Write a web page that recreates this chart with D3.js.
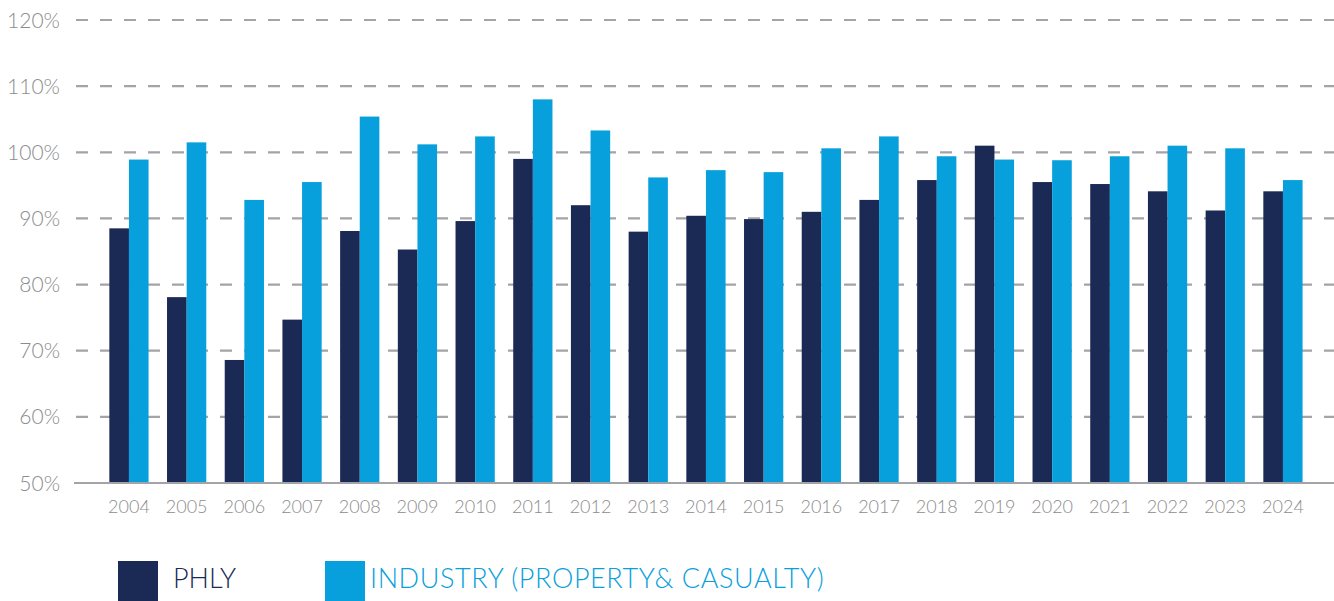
<!DOCTYPE html>
<html>
<head>
<meta charset="utf-8">
<script src="https://cdn.jsdelivr.net/npm/d3@7"></script>
<style>
  html, body { margin: 0; padding: 0; background: #fff; }
  svg { display: block; font-family: Lato, "Open Sans", sans-serif; }
</style>
</head>
<body>
<div id="chart"></div>
<script>
// ── Data ──
const years = ["2004","2005","2006","2007","2008","2009","2010","2011","2012","2013","2014",
  "2015","2016","2017","2018","2019","2020","2021","2022","2023","2024"];
const phly = [88.5, 78.1, 68.6, 74.7, 88.1, 85.3, 89.6, 99.0, 92.0, 88.0, 90.4,
  89.9, 91.0, 92.8, 95.8, 101.0, 95.5, 95.2, 94.1, 91.2, 94.1];
const industry = [98.9, 101.5, 92.8, 95.5, 105.4, 101.2, 102.4, 108.0, 103.3, 96.2, 97.3,
  97.0, 100.6, 102.4, 99.4, 98.9, 98.8, 99.4, 101.0, 100.6, 95.8];
const yTicks = [50, 60, 70, 80, 90, 100, 110, 120];

const C = { phly: "#1b2955", ind: "#08a0dc", grid: "#a3a3a8", text: "#8c8c8c" };

const W = 1334, H = 601;

const svg = d3.select("#chart").append("svg")
  .attr("width", W)
  .attr("height", H);

// ── Scales ──
const x = d3.scaleBand().domain(years).range([100.1, 1311.8])
  .paddingInner(0.32).paddingOuter(0.16);
const xs = d3.scaleBand().domain(["phly", "ind"]).range([0, x.bandwidth()]);
const y = d3.scaleLinear().domain([50, 120]).range([483, 20]);

// ── Grid ──
svg.append("g").selectAll("line")
  .data(yTicks.filter((d) => d > 50))
  .join("line")
  .attr("x1", 76).attr("x2", W)
  .attr("y1", (d) => y(d)).attr("y2", (d) => y(d))
  .attr("stroke", C.grid)
  .attr("stroke-width", 2.2)
  .attr("stroke-dasharray", "12,12");

// ── Y labels ──
svg.append("g").selectAll("text")
  .data(yTicks)
  .join("text")
  .attr("x", 60)
  .attr("y", (d) => y(d))
  .attr("dy", "0.36em")
  .attr("text-anchor", "end")
  .attr("fill", C.text)
  .attr("font-size", "21px")
  .attr("font-weight", 300)
  .text((d) => d + "%");

// ── Bars ──
const groups = svg.append("g").selectAll("g")
  .data(years.map((yr, i) => ({ yr, phly: phly[i], ind: industry[i] })))
  .join("g")
  .attr("transform", (d) => `translate(${x(d.yr)},0)`);

groups.append("rect")
  .attr("x", xs("phly"))
  .attr("width", xs.bandwidth())
  .attr("y", (d) => y(d.phly))
  .attr("height", (d) => y(50) - y(d.phly))
  .attr("fill", C.phly);

groups.append("rect")
  .attr("x", xs("ind"))
  .attr("width", xs.bandwidth())
  .attr("y", (d) => y(d.ind))
  .attr("height", (d) => y(50) - y(d.ind))
  .attr("fill", C.ind);

// ── Baseline ──
svg.append("line")
  .attr("x1", 74).attr("x2", W)
  .attr("y1", y(50)).attr("y2", y(50))
  .attr("stroke", C.grid)
  .attr("stroke-width", 2);

// ── X labels ──
svg.append("g").selectAll("text")
  .data(years)
  .join("text")
  .attr("x", (d) => x(d) + x.bandwidth() / 2)
  .attr("y", 507)
  .attr("dy", "0.36em")
  .attr("text-anchor", "middle")
  .attr("fill", C.text)
  .attr("font-size", "18px")
  .attr("font-weight", 300)
  .text((d) => d);

// ── Legend ──
const legend = [
  { label: "PHLY", color: C.phly, x: 118, tx: 55, ls: 0 },
  { label: "INDUSTRY (PROPERTY& CASUALTY)", color: C.ind, x: 325, tx: 45, ls: 0.6 },
];
const lg = svg.append("g").selectAll("g")
  .data(legend)
  .join("g")
  .attr("transform", (d) => `translate(${d.x},561)`);
lg.append("rect")
  .attr("width", 40).attr("height", 40)
  .attr("fill", (d) => d.color);
lg.append("text")
  .attr("x", (d) => d.tx)
  .attr("y", 27)
  .attr("fill", (d) => d.color)
  .attr("font-size", "27px")
  .attr("font-weight", 300)
  .attr("letter-spacing", (d) => d.ls)
  .text((d) => d.label);
</script>
</body>
</html>
